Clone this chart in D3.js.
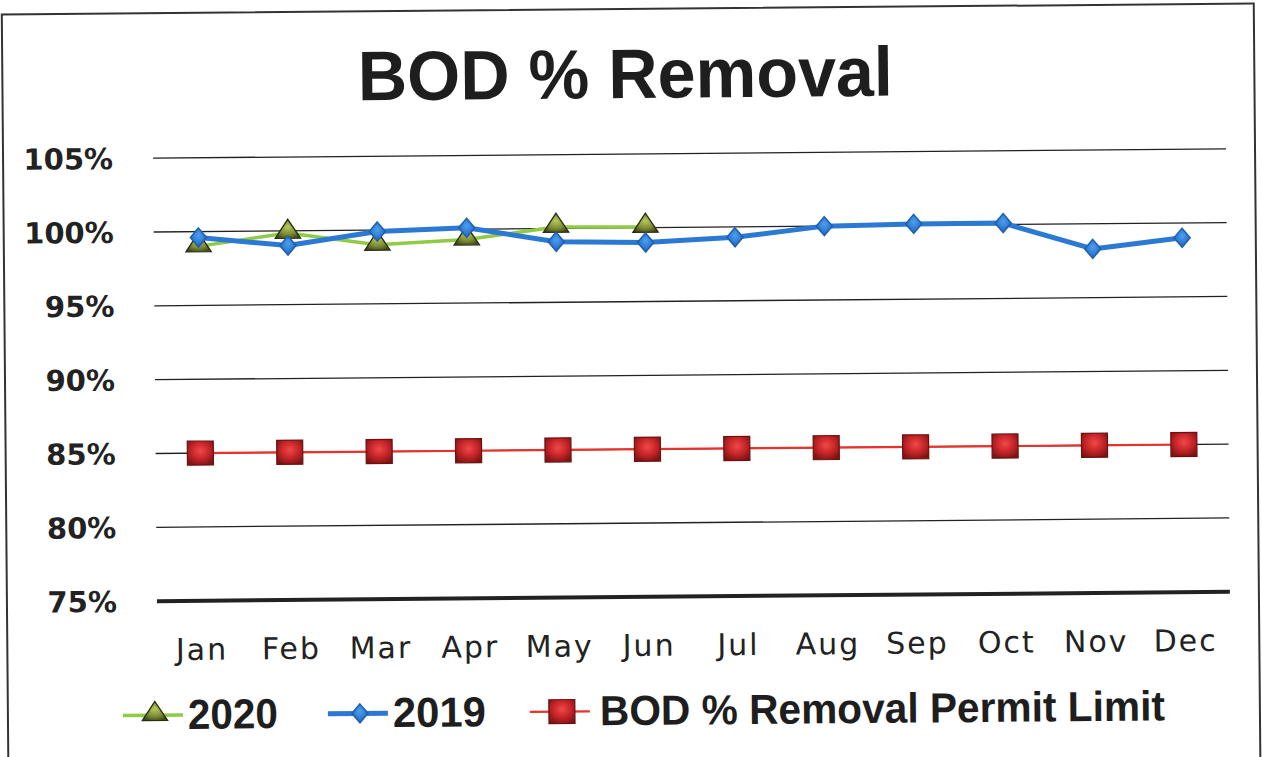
<!DOCTYPE html>
<html>
<head>
<meta charset="utf-8">
<script src="https://cdn.jsdelivr.net/npm/d3@7"></script>
<style>
  html, body { margin: 0; padding: 0; background: #fff; }
  svg { display: block; }
</style>
</head>
<body>
<svg id="chart" width="1262" height="757"></svg>
<script>
// chart data
const months = ['Jan', 'Feb', 'Mar', 'Apr', 'May', 'Jun', 'Jul', 'Aug', 'Sep', 'Oct', 'Nov', 'Dec']
const values2020 = [99.0, 99.85, 99.0, 99.3, 100.1, 100.05]
const values2019 = [99.6, 99.0, 99.9, 100.1, 99.1, 99.0, 99.3, 100.0, 100.1, 100.1, 98.3, 99.0]
const permitLimit = [85, 85, 85, 85, 85, 85, 85, 85, 85, 85, 85, 85]
const yTicks = [75, 80, 85, 90, 95, 100, 105]
const seriesNames = ['2020', '2019', 'BOD % Removal Permit Limit']

const svg = d3.select('#chart')
const W = 1262, H = 757

// gradients for the shaded markers
const defs = svg.append('defs')
const grad = (id, stops) => {
  const g = defs.append('radialGradient').attr('id', id).attr('cx', '50%').attr('cy', '40%').attr('r', '65%')
  stops.forEach(([o, c]) => g.append('stop').attr('offset', o).attr('stop-color', c))
}
grad('gRed', [['0%', '#f04848'], ['55%', '#c42428'], ['100%', '#7c1414']])
grad('gGreen', [['0%', '#b6c85a'], ['60%', '#7d8c34'], ['100%', '#3e4818']])
grad('gBlue', [['0%', '#4aa0f0'], ['100%', '#1d5fb8']])

// the scan is slightly tilted
const root = svg.append('g').attr('transform', `rotate(-0.5, ${W / 2}, ${H / 2})`)

// outer frame
root.append('rect')
  .attr('x', 5).attr('y', 9).attr('width', 1252).attr('height', 780)
  .attr('fill', 'none').attr('stroke', '#333').attr('stroke-width', 2)

// title
root.append('text')
  .attr('x', 628).attr('y', 98)
  .attr('text-anchor', 'middle')
  .attr('textLength', 535).attr('lengthAdjust', 'spacingAndGlyphs')
  .style('font-family', '"Liberation Sans Narrow", "Liberation Sans", sans-serif')
  .style('font-weight', 'bold').style('font-size', '70px').attr('fill', '#1e1e1e')
  .text('BOD % Removal')

const x = d3.scalePoint().domain(months).range([155, 1228]).padding(0.5)
const y = d3.scaleLinear().domain([75, 105]).range([597, 154])

// gridlines
root.append('g').selectAll('line')
  .data(yTicks)
  .join('line')
  .attr('x1', 155).attr('x2', 1228)
  .attr('y1', (d) => y(d)).attr('y2', (d) => y(d))
  .attr('stroke', '#222')
  .attr('stroke-width', (d) => (d === 75 ? 4 : 1.3))

// y axis labels
root.append('g').selectAll('text')
  .data(yTicks)
  .join('text')
  .attr('x', 115).attr('y', (d) => y(d))
  .attr('dy', '0.36em').attr('text-anchor', 'end')
  .style('font-family', '"DejaVu Sans", sans-serif')
  .style('font-weight', 'bold').style('font-size', '29px').attr('fill', '#222')
  .text((d) => d + '%')

// x axis labels
root.append('g').selectAll('text')
  .data(months)
  .join('text')
  .attr('x', (d) => x(d)).attr('y', 656)
  .attr('text-anchor', 'middle')
  .style('font-family', '"DejaVu Sans", sans-serif')
  .style('font-size', '30px').style('letter-spacing', '2px').attr('fill', '#222')
  .text((d) => d)

const line = d3.line().x((d) => x(d.m)).y((d) => y(d.v))
const toPts = (arr) => arr.map((v, i) => ({ m: months[i], v }))

const tri = d3.symbol().type(d3.symbolTriangle).size(210)
const diamond = (s) => `M0,${-s}L${s * 0.85},0L0,${s}L${-s * 0.85},0Z`

function drawMarker(sel, kind) {
  if (kind === 'tri') {
    sel.append('path').attr('d', tri()).attr('transform', 'translate(0,-1) scale(1.15,1)')
      .attr('fill', 'url(#gGreen)').attr('stroke', '#2a2a10').attr('stroke-width', 1.2)
  } else if (kind === 'dia') {
    sel.append('path').attr('d', diamond(9.5))
      .attr('fill', 'url(#gBlue)').attr('stroke', '#1f5fb0').attr('stroke-width', 1.5)
  } else {
    sel.append('rect').attr('x', -13).attr('y', -12).attr('width', 26).attr('height', 24)
      .attr('fill', 'url(#gRed)').attr('stroke', '#6e1010').attr('stroke-width', 1.2)
  }
}

const series = [
  { name: seriesNames[0], data: toPts(values2020), color: '#8fcb45', width: 3.5, kind: 'tri' },
  { name: seriesNames[1], data: toPts(values2019), color: '#2b79d3', width: 5, kind: 'dia' },
  { name: seriesNames[2], data: toPts(permitLimit), color: '#e8322a', width: 2.2, kind: 'sq' }
]

series.forEach((s) => {
  const g = root.append('g')
  g.append('path').attr('d', line(s.data))
    .attr('fill', 'none').attr('stroke', s.color).attr('stroke-width', s.width)
    .attr('stroke-linejoin', 'round')
  g.selectAll('g.mk')
    .data(s.data)
    .join('g').attr('class', 'mk')
    .attr('transform', (d) => `translate(${x(d.m)},${y(d.v)})`)
    .each(function() { drawMarker(d3.select(this), s.kind) })
})

// legend
const legendPos = [
  { lx: 120, tx: 185, tw: 90 },
  { lx: 325, tx: 390, tw: 93 },
  { lx: 527, tx: 597, tw: 565 }
]
series.forEach((s, i) => {
  const p = legendPos[i]
  const g = root.append('g').attr('transform', `translate(0, 711)`)
  g.append('line').attr('x1', p.lx).attr('x2', p.lx + 60).attr('y1', 0).attr('y2', 0)
    .attr('stroke', s.color).attr('stroke-width', s.width)
  drawMarker(g.append('g').attr('transform', `translate(${p.lx + 32},0)`), s.kind)
  g.append('text')
    .attr('x', p.tx).attr('y', 14)
    .attr('textLength', p.tw).attr('lengthAdjust', 'spacingAndGlyphs')
    .style('font-family', '"Liberation Sans Narrow", "Liberation Sans", sans-serif')
    .style('font-weight', 'bold').style('font-size', '42px').attr('fill', '#1e1e1e')
    .text(s.name)
})
</script>
</body>
</html>
